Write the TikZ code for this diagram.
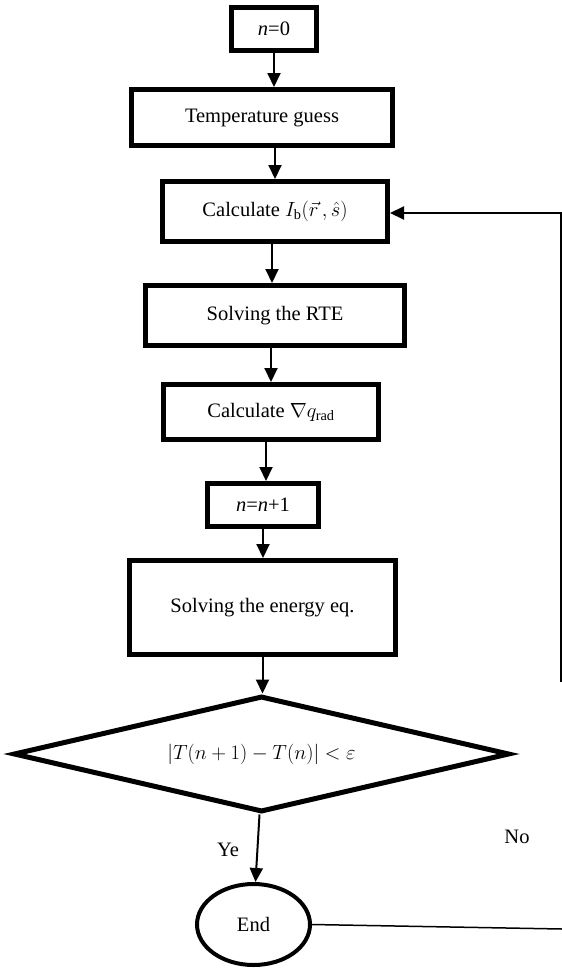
\documentclass[tikz,border=0pt]{standalone}
\usepackage{fix-cm}
\usepackage{fontspec}
\setmainfont{Liberation Serif}
\usetikzlibrary{shapes.geometric,arrows.meta}
\begin{document}
\begin{tikzpicture}[x=1pt,y=-1pt,
  box/.style={draw,line width=5pt,inner sep=0pt,font=\fontsize{20.5}{24}\selectfont},
  arr/.style={line width=2pt,-{Triangle[length=14pt,width=13pt]}},
  lbl/.style={font=\fontsize{20.5}{24}\selectfont,inner sep=0pt}]
\useasboundingbox (0,0) rectangle (562,969);
\node[box,minimum width=85pt,minimum height=43pt] (n0) at (274,29) {\textit{n}=0};
\node[box,minimum width=261pt,minimum height=56pt] (temp) at (262,117.5) {Temperature guess};
\node[box,minimum width=225pt,minimum height=60pt] (calc) at (275,211.5) {Calculate $I_{\mathrm{b}}(\vec{r}\,,\hat{s})$};
\node[box,minimum width=259pt,minimum height=60pt] (rte) at (275,315.5) {Solving the RTE};
\node[box,minimum width=215pt,minimum height=55pt] (grad) at (271,412) {Calculate $\nabla q_{\mathrm{rad}}$};
\node[box,minimum width=111pt,minimum height=43pt] (inc) at (263,505) {\textit{n}=\textit{n}+1};
\node[box,minimum width=266pt,minimum height=94pt] (energy) at (262.5,607.5) {Solving the energy eq.};
\node[box,diamond,line width=5pt,aspect=4.2,minimum width=496pt,minimum height=116pt] (dia) at (261.5,754) {$|T(n+1)-T(n)|<\varepsilon$};
\node[box,ellipse,line width=4pt,minimum width=113pt,minimum height=81pt] (end) at (253.5,924.5) {End};
\node[lbl] (ye) at (228,850) {Ye};
\node[lbl] (no) at (517,837) {No};
\coordinate (fbB) at (561,682);
\coordinate (fbT) at (561,213);
\coordinate (eR) at (562,929);
\draw[arr] (n0.south) -- (n0.south |- temp.north);
\draw[arr] (calc.north |- temp.south) -- (calc.north);
\draw[arr] ([xshift=-3pt]calc.south) -- ([xshift=-3pt]calc.south |- rte.north);
\draw[arr] (grad.north |- rte.south) -- (grad.north);
\draw[arr] ([xshift=-5pt]grad.south) -- ([xshift=-5pt]grad.south |- inc.north);
\draw[arr] (inc.south) -- (inc.south |- energy.north);
\draw[arr] (energy.south) -- (energy.south |- dia.north);
\draw[arr] ([xshift=-2pt]dia.south) -- ([xshift=2pt]end.north);
\draw[arr] (fbB) -- (fbT) -- (calc.east |- fbT);
\draw[line width=1.5pt] (end.east) -- (eR);
\end{tikzpicture}
\end{document}
